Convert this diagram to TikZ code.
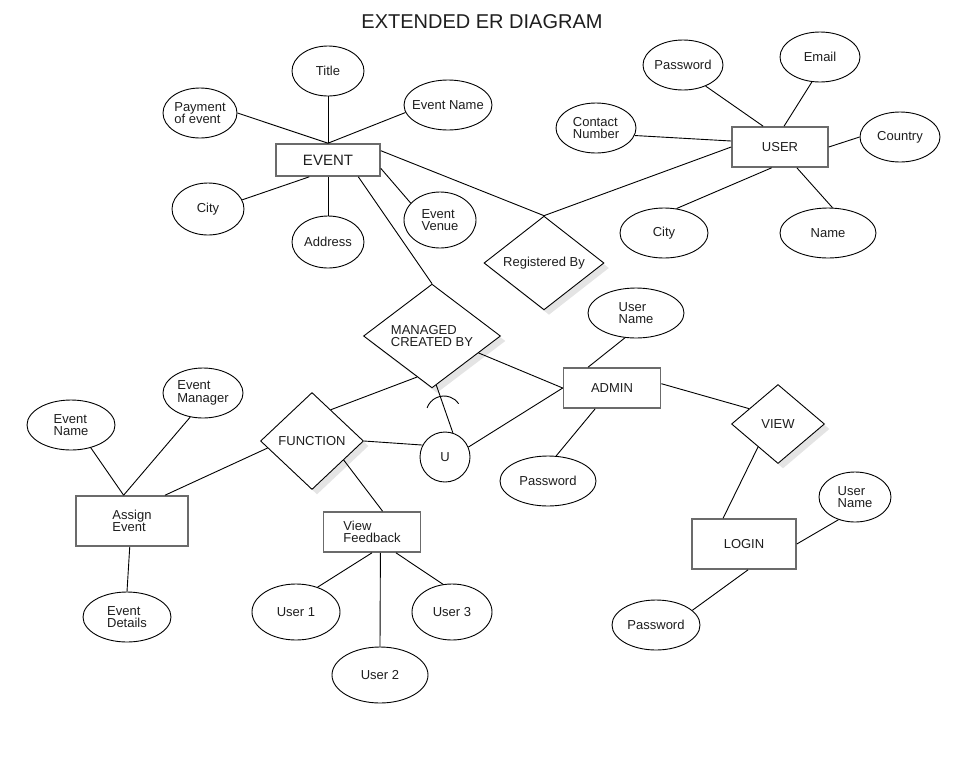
\documentclass[tikz,border=0pt]{standalone}
\usepackage{fontspec}
\setmainfont{Liberation Sans}
\usepackage{tikz}
\usetikzlibrary{shapes.geometric,shadows}
\definecolor{ERGrey}  {HTML}{6B6B6B}
\definecolor{ERShade} {HTML}{E4E4E4}
\definecolor{ERInk}   {HTML}{1E1E1E}

\tikzset{
  erfont/.style={font=\fontsize{13}{12.5}\selectfont,text=ERInk,align=left},
  entity/.style={erfont,draw=ERGrey,line width=1.6pt,fill=white,inner sep=0pt},
  attr/.style={erfont,ellipse,draw,line width=0.9pt,fill=white,inner sep=-8pt},
  rel/.style={erfont,diamond,draw,line width=0.9pt,fill=white,inner sep=0pt,
    drop shadow={shadow xshift=5pt,shadow yshift=-5pt,fill=ERShade,opacity=1}},
  link/.style={line width=0.9pt}
}

\begin{document}
\begin{tikzpicture}[x=1pt,y=-1pt]
  \useasboundingbox (0,0) rectangle (978,780);
  \node[font=\fontsize{20}{22}\selectfont,text=ERInk] (heading) at (482,22) {EXTENDED ER DIAGRAM};

  % event side
  \node[entity,font=\fontsize{15}{15}\selectfont,minimum width=104pt,minimum height=32pt] (event) at (328,160) {EVENT};
  \node[attr,minimum width=72pt,minimum height=50pt] (evtitle) at (328,71) {Title};
  \node[attr,minimum width=74pt,minimum height=50pt] (payment) at (200,113) {Payment\\of event};
  \node[attr,minimum width=88pt,minimum height=50pt] (evname) at (448,105) {Event Name};
  \node[attr,minimum width=72pt,minimum height=52pt] (evcity) at (208,209) {City};
  \node[attr,minimum width=72pt,minimum height=52pt] (address) at (328,242) {Address};
  \node[attr,minimum width=72pt,minimum height=56pt] (venue) at (440,220) {Event\\Venue};
  \node[rel,minimum width=120pt,minimum height=66pt] (regby) at (544,263) {Registered By};

  % user side
  \node[entity,minimum width=96pt,minimum height=40pt] (user) at (780,147) {USER};
  \node[attr,minimum width=80pt,minimum height=50pt] (upass) at (683,65) {Password};
  \node[attr,minimum width=80pt,minimum height=50pt] (email) at (820,57) {Email};
  \node[attr,minimum width=80pt,minimum height=50pt] (contact) at (596,128) {Contact\\Number};
  \node[attr,minimum width=80pt,minimum height=50pt] (country) at (900,137) {Country};
  \node[attr,minimum width=88pt,minimum height=50pt] (ucity) at (664,233) {City};
  \node[attr,minimum width=96pt,minimum height=50pt] (uname) at (828,233) {Name};

  % middle
  \node[rel,minimum width=137pt,minimum height=80pt] (managed) at (432,336) {MANAGED\\CREATED BY};
  \node[rel,minimum width=103pt,minimum height=97pt] (function) at (312,441) {FUNCTION};
  \node[erfont,circle,draw,line width=0.9pt,fill=white,minimum size=50pt,inner sep=0pt] (union) at (445,457) {U};

  % admin and login
  \node[entity,minimum width=97pt,minimum height=40pt] (admin) at (612,388) {ADMIN};
  \node[attr,minimum width=96pt,minimum height=50pt] (auser) at (636,313) {User\\Name};
  \node[attr,minimum width=96pt,minimum height=50pt] (apass) at (548,481) {Password};
  \node[rel,minimum width=93pt,minimum height=79pt] (view) at (778,424) {VIEW};
  \node[entity,minimum width=104pt,minimum height=50pt] (login) at (744,544) {LOGIN};
  \node[attr,minimum width=72pt,minimum height=50pt] (luser) at (855,497) {User\\Name};
  \node[attr,minimum width=88pt,minimum height=50pt] (lpass) at (656,625) {Password};

  % functions
  \node[entity,minimum width=112pt,minimum height=50pt] (assign) at (132,521) {Assign\\Event};
  \node[attr,minimum width=88pt,minimum height=50pt] (aname) at (71,425) {Event\\Name};
  \node[attr,minimum width=80pt,minimum height=50pt] (amanager) at (203,393) {Event\\Manager};
  \node[attr,minimum width=88pt,minimum height=50pt] (adetails) at (127,617) {Event\\Details};
  \node[entity,minimum width=97pt,minimum height=40pt] (feedback) at (372,532) {View\\Feedback};
  \node[attr,minimum width=88pt,minimum height=56pt] (user1) at (296,612) {User 1};
  \node[attr,minimum width=96pt,minimum height=56pt] (user2) at (380,675) {User 2};
  \node[attr,minimum width=80pt,minimum height=56pt] (user3) at (452,612) {User 3};

  % connectors
  \draw[link] (payment.east) -- (event.north);
  \draw[link] (evtitle.south) -- (event.north);
  \draw[link] (evname.190) -- (event.north);
  \draw[link] (evcity.15) -- (event.-138);
  \draw[link] (address.north) -- (event.south);
  \draw[link] (venue.150) -- (event.-9);
  \draw[link] (event.10) -- (regby.north);
  \draw[link] (event.-29) -- (managed.north);
  \draw[link] (user.west) -- (regby.north);
  \draw[link] (upass.-43) -- (user.129);
  \draw[link] (email.-108) -- (user.79);
  \draw[link] (contact.-11) -- (user.173);
  \draw[link] (user.east) -- (country.west);
  \draw[link] (ucity.63) -- (user.-112);
  \draw[link] (uname.80) -- (user.-51);
  \draw[link] (managed.-110) -- (function.59);
  \draw[link] (managed.-85) -- (union.72);
  \draw[link] (managed.-20) -- (admin.west);
  \draw[link] (function.east) -- (union.152);
  \draw[link] (union.23) -- (admin.west);
  \draw[link] (function.-31) -- (feedback.63);
  \draw[link] (function.-171) -- (assign.38);
  \draw[link] (auser.-114) -- (admin.139);
  \draw[link] (admin.-129) -- (apass.72);
  \draw[link] (admin.5) -- (view.152);
  \draw[link] (view.-131) -- (login.129);
  \draw[link] (luser.-126) -- (login.east);
  \draw[link] (login.-81) -- (lpass.22);
  \draw[link] (aname.-49) -- (assign.108);
  \draw[link] (amanager.-118) -- (assign.108);
  \draw[link] (assign.-95) -- (adetails.north);
  \draw[link] (feedback.south) -- (user1.49);
  \draw[link] (feedback.-68) -- (user2.north);
  \draw[link] (feedback.-41) -- (user3.108);
  % subset mark
  \draw[link] (444,414) ++(160:18pt) arc[start angle=160,end angle=35,radius=18pt];
\end{tikzpicture}
\end{document}
